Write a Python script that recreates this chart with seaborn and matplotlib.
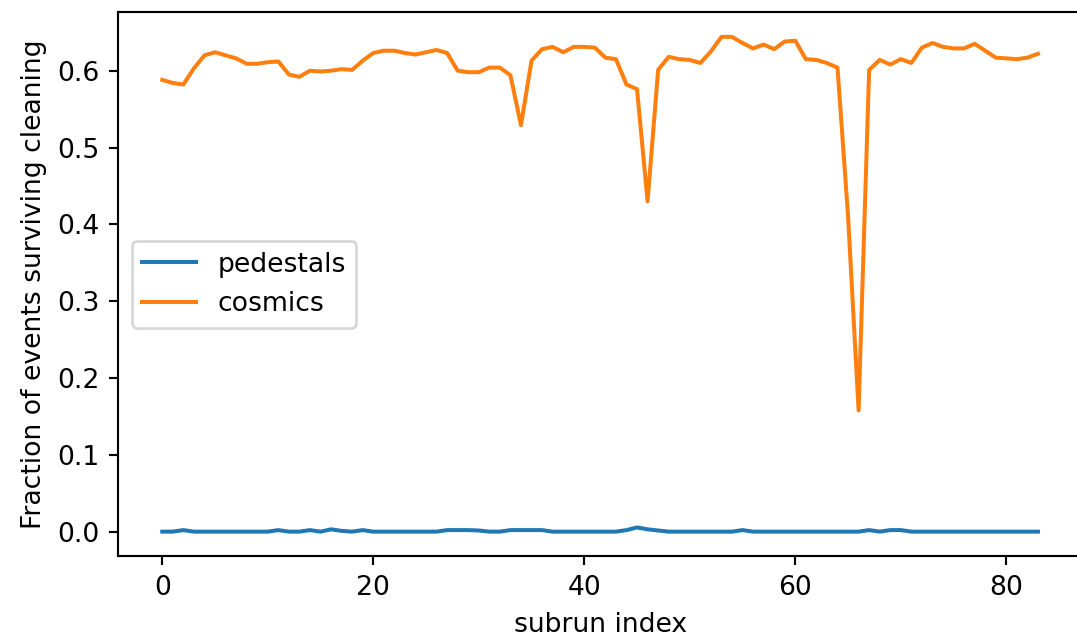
import numpy as np
import pandas as pd
import matplotlib
matplotlib.use("Agg")
import matplotlib.pyplot as plt
import seaborn as sns

# fraction of events surviving cleaning, one value per subrun
cosmics = [
    0.588, 0.584, 0.582, 0.603, 0.620, 0.624, 0.620, 0.616, 0.609, 0.609,
    0.611, 0.612, 0.595, 0.592, 0.600, 0.599, 0.600, 0.602, 0.601, 0.613,
    0.623, 0.626, 0.626, 0.623, 0.621, 0.624, 0.627, 0.623, 0.600, 0.598,
    0.598, 0.604, 0.604, 0.594, 0.529, 0.613, 0.628, 0.631, 0.624, 0.631,
    0.631, 0.630, 0.617, 0.615, 0.582, 0.576, 0.430, 0.601, 0.618, 0.615,
    0.614, 0.610, 0.625, 0.644, 0.644, 0.636, 0.629, 0.634, 0.628, 0.638,
    0.639, 0.615, 0.614, 0.610, 0.604, 0.411, 0.158, 0.601, 0.614, 0.608,
    0.615, 0.610, 0.630, 0.636, 0.631, 0.629, 0.629, 0.635, 0.626, 0.617,
    0.616, 0.615, 0.617, 0.622,
]
pedestals = [
    0.000, 0.000, 0.002, 0.000, 0.000, 0.000, 0.000, 0.000, 0.000, 0.000,
    0.000, 0.002, 0.000, 0.000, 0.002, 0.000, 0.003, 0.001, 0.000, 0.002,
    0.000, 0.000, 0.000, 0.000, 0.000, 0.000, 0.000, 0.002, 0.002, 0.002,
    0.0015, 0.000, 0.000, 0.002, 0.002, 0.002, 0.002, 0.000, 0.000, 0.000,
    0.000, 0.000, 0.000, 0.000, 0.002, 0.0055, 0.003, 0.0015, 0.000, 0.000,
    0.000, 0.000, 0.000, 0.000, 0.000, 0.002, 0.000, 0.000, 0.000, 0.000,
    0.000, 0.000, 0.000, 0.000, 0.000, 0.000, 0.000, 0.002, 0.000, 0.002,
    0.002, 0.000, 0.000, 0.000, 0.000, 0.000, 0.000, 0.000, 0.000, 0.000,
    0.000, 0.000, 0.000, 0.000,
]
subrun = np.arange(len(cosmics))

df = pd.concat([
    pd.DataFrame({'subrun': subrun, 'fraction': pedestals, 'run': 'pedestals'}),
    pd.DataFrame({'subrun': subrun, 'fraction': cosmics, 'run': 'cosmics'}),
])

DPI = 192
fig, ax = plt.subplots(figsize=(1077 / DPI, 639 / DPI), dpi=DPI)
sns.lineplot(data=df, x='subrun', y='fraction', hue='run',
             palette=['#1f77b4', '#ff7f0e'], linewidth=1.5, ax=ax)
ax.set_xlabel('subrun index')
ax.set_ylabel('Fraction of events surviving cleaning')
ax.legend(loc='center left')
# the original was cropped so the right spine falls just past the image edge
fig.subplots_adjust(left=0.110, right=1.0044, top=0.981, bottom=0.1293)
fig.savefig('out.png', dpi=DPI)
